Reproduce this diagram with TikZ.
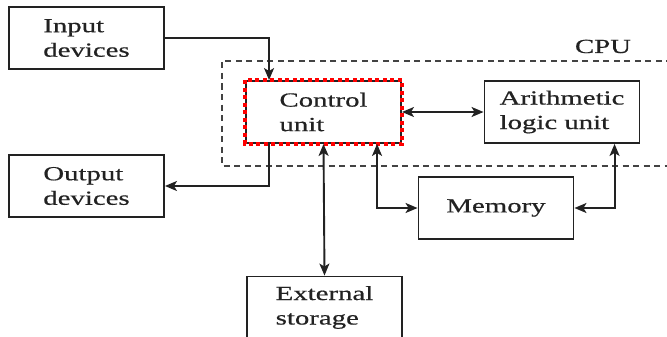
\documentclass[tikz,border=0pt]{standalone}
\usepackage{fontspec}
\setmainfont{Liberation Serif}[FakeStretch=1.44,FakeBold=0.6]
\usetikzlibrary{arrows.meta,calc}
\definecolor{ink}{HTML}{222222}
\tikzset{
  unitbox/.style={draw=ink, line width=1.9pt, minimum width=155pt, minimum height=62pt,
    inner sep=0pt, align=left, text=ink, font=\fontsize{20}{24.5}\selectfont},
  link/.style={draw=ink, line width=1.9pt},
  tip/.tip={Stealth[length=12pt,width=10pt,inset=3pt]},
  arr/.style={link, -tip},
  biarr/.style={link, tip-tip},
  cpuframe/.style={draw=ink!85, line width=1.4pt, dash pattern=on 6pt off 4.5pt},
  highlight/.style={draw=red, line width=4pt, dash pattern=on 4pt off 3.5pt}
}
\begin{document}
\begin{tikzpicture}[x=1pt, y=-1pt]
  \useasboundingbox (0,0) rectangle (667,337);

  % CPU boundary (runs past the right edge)
  \draw[cpuframe] (672,61) -- (222,61) -- (222,166) -- (672,166);
  \node[anchor=base, text=ink, font=\fontsize{20}{24}\selectfont] (cpu) at (603,53) {CPU};

  % functional units
  \node[unitbox] (in)  at (86.5,38)   {Input\\devices};
  \node[unitbox] (out) at (86.5,186)  {Output\\devices};
  \node[unitbox] (ctl) at (323.5,112) {Control\\unit};
  \node[unitbox] (alu) at (562,112)   {Arithmetic\\logic unit};
  \node[unitbox] (mem) at (496,208)   {Memory};
  \node[unitbox] (ext) at (324.5,307.5) {External\\storage};

  % highlighted border of the control unit
  \draw[highlight] (ctl.north west) rectangle (ctl.south east);

  % data paths
  \draw[arr] (in.east) -| ($(ctl.north west)+(24,0)$);
  \draw[arr] ($(ctl.south west)+(24,0)$) |- (out.east);
  \draw[biarr] (ctl.east) -- (alu.west);
  \draw[biarr] (ctl.south) -- (ext.north);
  \draw[biarr] ($(ctl.south west)+(132,0)$) |- (mem.west);
  \draw[biarr] ($(alu.south west)+(131,0)$) |- (mem.east);
\end{tikzpicture}
\end{document}
